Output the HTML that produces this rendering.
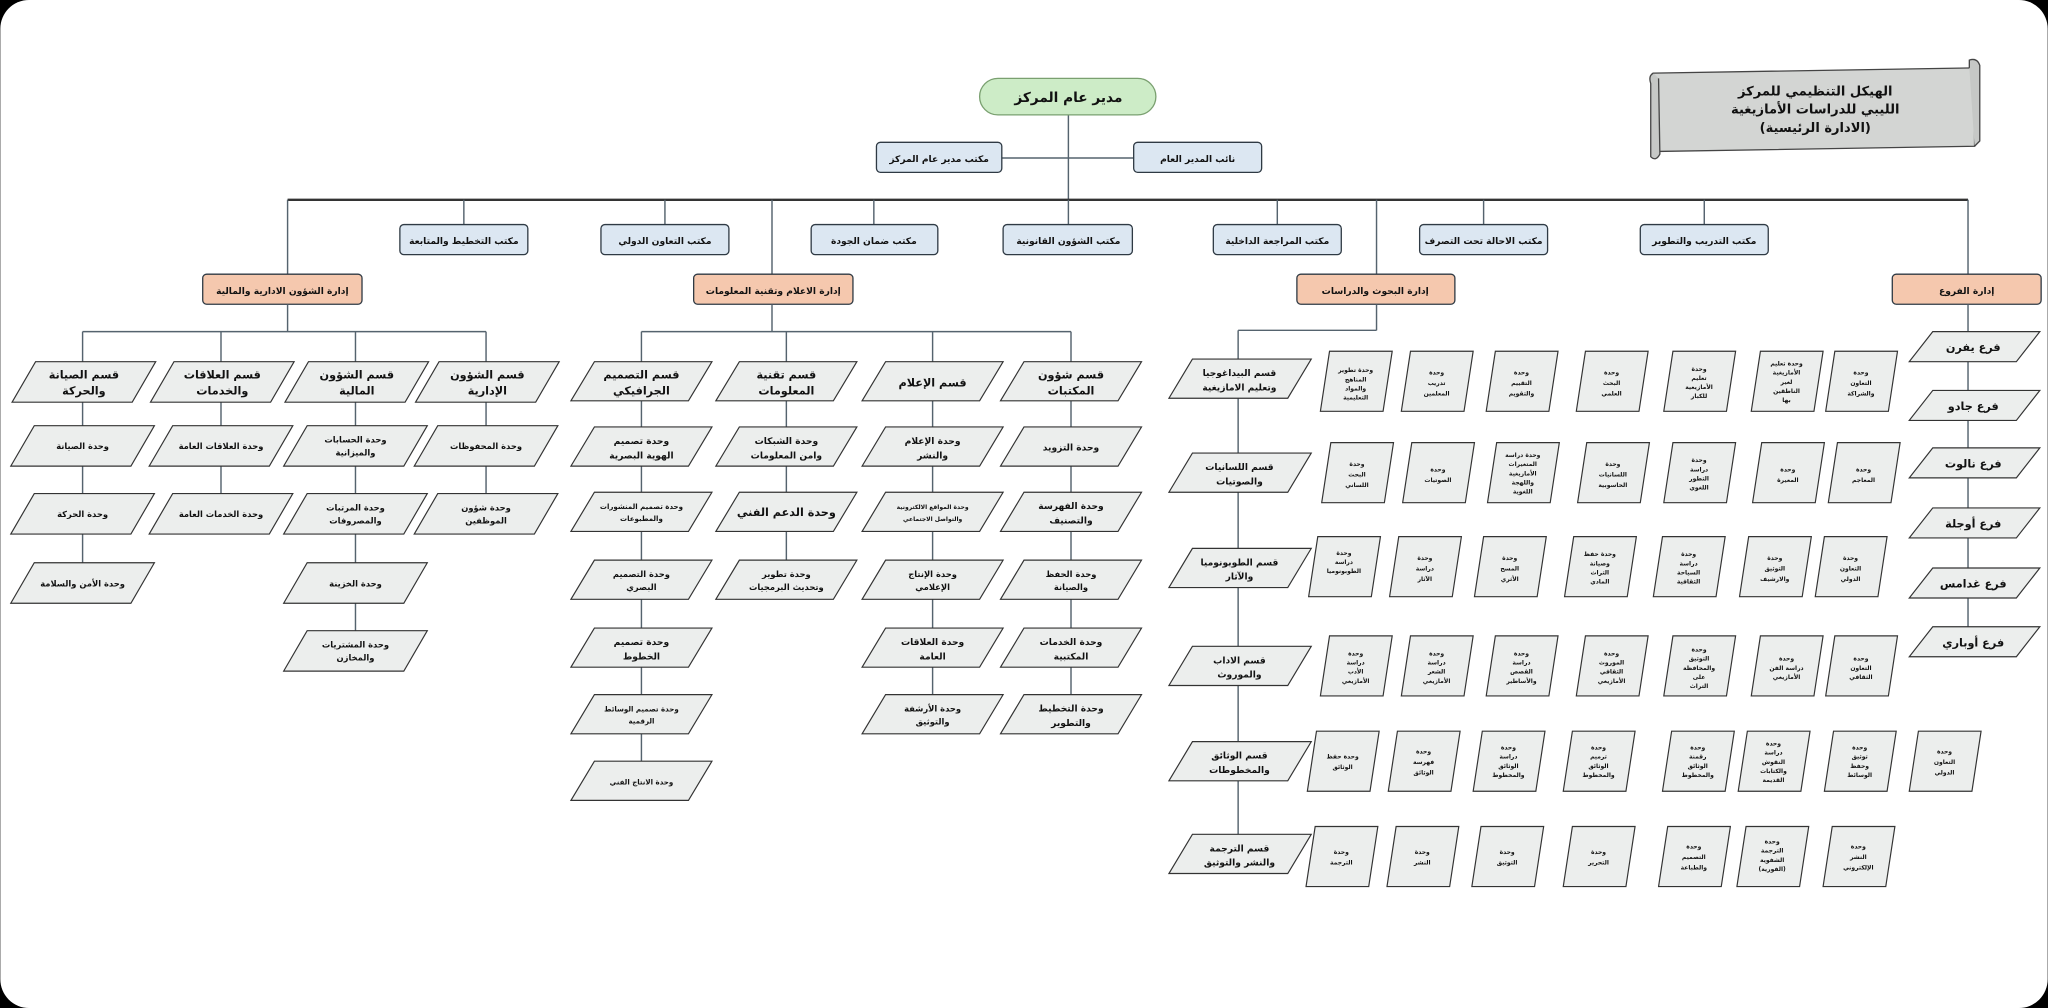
<!DOCTYPE html>
<html><head><meta charset="utf-8"><style>
html,body{margin:0;padding:0;background:#000;width:2048px;height:1008px;overflow:hidden}
svg{display:block}
text{font-family:"DejaVu Sans","Liberation Sans",sans-serif;font-weight:bold;fill:#111;text-anchor:middle;direction:rtl}
.ln{stroke:#55636e;stroke-width:1.1;fill:none}
.bx{fill:#dce7f2;stroke:#2f3a44;stroke-width:1}
.or{fill:#f5c8ae;stroke:#2f3a44;stroke-width:1}
.pg{fill:#eceeed;stroke:#333;stroke-width:0.9}
.t8{font-size:7px}.t9{font-size:8.6px}.t7{font-size:6.4px}.t6{font-size:5.4px}.t5{font-size:4.6px}
</style></head><body>
<svg width="2048" height="1008" viewBox="0 0 1568 772" xmlns="http://www.w3.org/2000/svg">
<rect x="0" y="0" width="1568" height="772" rx="22" fill="#fff"/>

<path d="M1266 56 L1512 52 L1512 112 L1270 116 Z" fill="#d3d5d3" stroke="#444" stroke-width="1"/>
<path d="M1508 52 L1508 46 Q1514 44 1516 50 L1516 108 L1512 112" fill="#c6c8c6" stroke="#444" stroke-width="1"/>
<path d="M1266 56 Q1262 58 1264 64 L1264 120 Q1268 124 1271 118 L1270 60" fill="#c6c8c6" stroke="#444" stroke-width="1"/>
<text x="1390" y="73" style="font-size:10px">الهيكل التنظيمي للمركز</text>
<text x="1390" y="87" style="font-size:10px">الليبي للدراسات الأمازيغية</text>
<text x="1390" y="101" style="font-size:10px">(الادارة الرئيسية)</text>

<path class="ln" d="M818 88 V153 M767 121 H868"/>
<path d="M220 153 H1507" stroke="#333" stroke-width="1.8"/>
<path class="ln" d="M355 153V172 M509 153V172 M669 153V172 M818 153V172 M978 153V172 M1136 153V172 M1305 153V172 M220 153V210 M591 153V210 M1054 153V210 M1507 153V210"/>

<rect x="750" y="60" width="135" height="28" rx="14" fill="#cdecc7" stroke="#7aa070" stroke-width="1"/>
<text x="818" y="78" style="font-size:10.5px">مدير عام المركز</text>

<rect class="bx" x="671" y="109" width="96" height="23" rx="3"/><text class="t8" x="719" y="124">مكتب مدير عام المركز</text>
<rect class="bx" x="868" y="109" width="98" height="23" rx="3"/><text class="t8" x="917" y="124">نائب المدير العام</text>

<rect class="bx" x="306" y="172" width="98" height="23" rx="3"/><text class="t8" x="355" y="187">مكتب التخطيط والمتابعة</text>
<rect class="bx" x="460" y="172" width="98" height="23" rx="3"/><text class="t8" x="509" y="187">مكتب التعاون الدولي</text>
<rect class="bx" x="621" y="172" width="97" height="23" rx="3"/><text class="t8" x="669" y="187">مكتب ضمان الجودة</text>
<rect class="bx" x="768" y="172" width="99" height="23" rx="3"/><text class="t8" x="818" y="187">مكتب الشؤون القانونية</text>
<rect class="bx" x="929" y="172" width="98" height="23" rx="3"/><text class="t8" x="978" y="187">مكتب المراجعة الداخلية</text>
<rect class="bx" x="1087" y="172" width="98" height="23" rx="3"/><text class="t8" x="1136" y="187">مكتب الاحالة تحت التصرف</text>
<rect class="bx" x="1256" y="172" width="98" height="23" rx="3"/><text class="t8" x="1305" y="187">مكتب التدريب والتطوير</text>

<rect class="or" x="155" y="210" width="122" height="23" rx="3"/><text class="t8" x="216" y="225">إدارة الشؤون الادارية والمالية</text>
<rect class="or" x="531" y="210" width="122" height="23" rx="3"/><text class="t8" x="592" y="225">إدارة الاعلام وتقنية المعلومات</text>
<rect class="or" x="993" y="210" width="121" height="23" rx="3"/><text class="t8" x="1053" y="225">إدارة البحوث والدراسات</text>
<rect class="or" x="1449" y="210" width="114" height="23" rx="3"/><text class="t8" x="1506" y="225">إدارة الفروع</text>

<path class="ln" d="M220 233V254 M63 254H372 M63 254V277 M169 254V277 M272 254V277 M372 254V277 M63 308V450 M169 308V395 M272 308V500 M372 308V395"/>
<g>
<polygon class="pg" points="27,277 119,277 101,308 9,308"/><text class="t9" x="64" y="290">قسم الصيانة</text><text class="t9" x="64" y="302">والحركة</text>
<polygon class="pg" points="133,277 225,277 207,308 115,308"/><text class="t9" x="170" y="290">قسم العلاقات</text><text class="t9" x="170" y="302">والخدمات</text>
<polygon class="pg" points="236,277 328,277 310,308 218,308"/><text class="t9" x="273" y="290">قسم الشؤون</text><text class="t9" x="273" y="302">المالية</text>
<polygon class="pg" points="336,277 428,277 410,308 318,308"/><text class="t9" x="373" y="290">قسم الشؤون</text><text class="t9" x="373" y="302">الإدارية</text>

<polygon class="pg" points="26,326 118,326 100,357 8,357"/><text class="t7" x="63" y="344">وحدة الصيانة</text>
<polygon class="pg" points="26,378 118,378 100,409 8,409"/><text class="t7" x="63" y="396">وحدة الحركة</text>
<polygon class="pg" points="26,431 118,431 100,462 8,462"/><text class="t7" x="63" y="449">وحدة الأمن والسلامة</text>
<polygon class="pg" points="132,326 224,326 206,357 114,357"/><text class="t7" x="169" y="344">وحدة العلاقات العامة</text>
<polygon class="pg" points="132,378 224,378 206,409 114,409"/><text class="t7" x="169" y="396">وحدة الخدمات العامة</text>
<polygon class="pg" points="235,326 327,326 309,357 217,357"/><text class="t7" x="272" y="339">وحدة الحسابات</text><text class="t7" x="272" y="349">والميزانية</text>
<polygon class="pg" points="235,378 327,378 309,409 217,409"/><text class="t7" x="272" y="391">وحدة المرتبات</text><text class="t7" x="272" y="401">والمصروفات</text>
<polygon class="pg" points="235,431 327,431 309,462 217,462"/><text class="t7" x="272" y="449">وحدة الخزينة</text>
<polygon class="pg" points="235,483 327,483 309,514 217,514"/><text class="t7" x="272" y="496">وحدة المشتريات</text><text class="t7" x="272" y="506">والمخازن</text>
<polygon class="pg" points="335,326 427,326 409,357 317,357"/><text class="t7" x="372" y="344">وحدة المحفوظات</text>
<polygon class="pg" points="335,378 427,378 409,409 317,409"/><text class="t7" x="372" y="391">وحدة شؤون</text><text class="t7" x="372" y="401">الموظفين</text>
</g>

<path class="ln" d="M591 233V254 M491 254H820 M491 254V277 M602 254V277 M714 254V277 M820 254V277 M491 306V590 M602 306V440 M714 306V540 M820 306V540"/>
<g>
<polygon class="pg" points="455,277 545,277 527,307 437,307"/><text class="t9" x="491" y="290">قسم التصميم</text><text class="t9" x="491" y="302">الجرافيكي</text>
<polygon class="pg" points="566,277 656,277 638,307 548,307"/><text class="t9" x="602" y="290">قسم تقنية</text><text class="t9" x="602" y="302">المعلومات</text>
<polygon class="pg" points="678,277 768,277 750,307 660,307"/><text class="t9" x="714" y="296">قسم الإعلام</text>
<polygon class="pg" points="784,277 874,277 856,307 766,307"/><text class="t9" x="820" y="290">قسم شؤون</text><text class="t9" x="820" y="302">المكتبات</text>

<polygon class="pg" points="455,327 545,327 527,357 437,357"/><text class="t8" x="491" y="340">وحدة تصميم</text><text class="t8" x="491" y="351">الهوية البصرية</text>
<polygon class="pg" points="455,377 545,377 527,407 437,407"/><text class="t6" x="491" y="390">وحدة تصميم المنشورات</text><text class="t6" x="491" y="399">والمطبوعات</text>
<polygon class="pg" points="455,429 545,429 527,459 437,459"/><text class="t7" x="491" y="442">وحدة التصميم</text><text class="t7" x="491" y="452">البصري</text>
<polygon class="pg" points="455,481 545,481 527,511 437,511"/><text class="t8" x="491" y="494">وحدة تصميم</text><text class="t8" x="491" y="505">الخطوط</text>
<polygon class="pg" points="455,532 545,532 527,562 437,562"/><text class="t6" x="491" y="545">وحدة تصميم الوسائط</text><text class="t6" x="491" y="554">الرقمية</text>
<polygon class="pg" points="455,583 545,583 527,613 437,613"/><text class="t6" x="491" y="601">وحدة الانتاج الفني</text>

<polygon class="pg" points="566,327 656,327 638,357 548,357"/><text class="t8" x="602" y="340">وحدة الشبكات</text><text class="t8" x="602" y="351">وامن المعلومات</text>
<polygon class="pg" points="566,377 656,377 638,407 548,407"/><text class="t9" x="602" y="395">وحدة الدعم الفني</text>
<polygon class="pg" points="566,429 656,429 638,459 548,459"/><text class="t7" x="602" y="442">وحدة تطوير</text><text class="t7" x="602" y="452">وتحديث البرمجيات</text>

<polygon class="pg" points="678,327 768,327 750,357 660,357"/><text class="t8" x="714" y="340">وحدة الإعلام</text><text class="t8" x="714" y="351">والنشر</text>
<polygon class="pg" points="678,377 768,377 750,407 660,407"/><text class="t5" x="714" y="390">وحدة المواقع الالكترونية</text><text class="t5" x="714" y="399">والتواصل الاجتماعي</text>
<polygon class="pg" points="678,429 768,429 750,459 660,459"/><text class="t7" x="714" y="442">وحدة الإنتاج</text><text class="t7" x="714" y="452">الإعلامي</text>
<polygon class="pg" points="678,481 768,481 750,511 660,511"/><text class="t8" x="714" y="494">وحدة العلاقات</text><text class="t8" x="714" y="505">العامة</text>
<polygon class="pg" points="678,532 768,532 750,562 660,562"/><text class="t7" x="714" y="545">وحدة الأرشفة</text><text class="t7" x="714" y="555">والتوثيق</text>

<polygon class="pg" points="784,327 874,327 856,357 766,357"/><text class="t8" x="820" y="345">وحدة التزويد</text>
<polygon class="pg" points="784,377 874,377 856,407 766,407"/><text class="t8" x="820" y="390">وحدة الفهرسة</text><text class="t8" x="820" y="401">والتصنيف</text>
<polygon class="pg" points="784,429 874,429 856,459 766,459"/><text class="t7" x="820" y="442">وحدة الحفظ</text><text class="t7" x="820" y="452">والصيانة</text>
<polygon class="pg" points="784,481 874,481 856,511 766,511"/><text class="t8" x="820" y="494">وحدة الخدمات</text><text class="t8" x="820" y="505">المكتبية</text>
<polygon class="pg" points="784,532 874,532 856,562 766,562"/><text class="t8" x="820" y="545">وحدة التخطيط</text><text class="t8" x="820" y="556">والتطوير</text>
</g>

<path class="ln" d="M1054 233V253 M948 253H1054 M948 253V639"/>
<g>
<polygon class="pg" points="913,275 1004,275 986,305 895,305"/><text class="t8" x="949" y="288">قسم البيداغوجيا</text><text class="t8" x="949" y="299">وتعليم الامازيغية</text>
<polygon class="pg" points="913,347 1004,347 986,377 895,377"/><text class="t8" x="949" y="360">قسم اللسانيات</text><text class="t8" x="949" y="371">والصوتيات</text>
<polygon class="pg" points="913,420 1004,420 986,450 895,450"/><text class="t8" x="949" y="433">قسم الطوبونوميا</text><text class="t8" x="949" y="444">والآثار</text>
<polygon class="pg" points="913,495 1004,495 986,525 895,525"/><text class="t8" x="949" y="508">قسم الاداب</text><text class="t8" x="949" y="519">والموروث</text>
<polygon class="pg" points="913,568 1004,568 986,598 895,598"/><text class="t8" x="949" y="581">قسم الوثائق</text><text class="t8" x="949" y="592">والمخطوطات</text>
<polygon class="pg" points="913,639 1004,639 986,669 895,669"/><text class="t8" x="949" y="652">قسم الترجمة</text><text class="t8" x="949" y="663">والنشر والتوثيق</text>
</g>

<g>
<polygon class="pg" points="1018,269 1066,269 1059,315 1011,315"/><text class="t5" x="1038" y="285">وحدة تطوير</text><text class="t5" x="1038" y="292">المناهج</text><text class="t5" x="1038" y="299">والمواد</text><text class="t5" x="1038" y="306">التعليمية</text>
<polygon class="pg" points="1080,269 1128,269 1121,315 1073,315"/><text class="t5" x="1100" y="287">وحدة</text><text class="t5" x="1100" y="295">تدريب</text><text class="t5" x="1100" y="303">المعلمين</text>
<polygon class="pg" points="1145,269 1193,269 1186,315 1138,315"/><text class="t5" x="1165" y="287">وحدة</text><text class="t5" x="1165" y="295">التقييم</text><text class="t5" x="1165" y="303">والتقويم</text>
<polygon class="pg" points="1214,269 1262,269 1255,315 1207,315"/><text class="t5" x="1234" y="287">وحدة</text><text class="t5" x="1234" y="295">البحث</text><text class="t5" x="1234" y="303">العلمي</text>
<polygon class="pg" points="1281,269 1329,269 1322,315 1274,315"/><text class="t5" x="1301" y="284">وحدة</text><text class="t5" x="1301" y="291">تعليم</text><text class="t5" x="1301" y="298">الأمازيغية</text><text class="t5" x="1301" y="305">للكبار</text>
<polygon class="pg" points="1348,269 1396,269 1389,315 1341,315"/><text class="t5" x="1368" y="280">وحدة تعليم</text><text class="t5" x="1368" y="287">الأمازيغية</text><text class="t5" x="1368" y="294">لغير</text><text class="t5" x="1368" y="301">الناطقين</text><text class="t5" x="1368" y="308">بها</text>
<polygon class="pg" points="1405,269 1453,269 1446,315 1398,315"/><text class="t5" x="1425" y="287">وحدة</text><text class="t5" x="1425" y="295">التعاون</text><text class="t5" x="1425" y="303">والشراكة</text>

<polygon class="pg" points="1019,339 1067,339 1060,385 1012,385"/><text class="t5" x="1039" y="357">وحدة</text><text class="t5" x="1039" y="365">البحث</text><text class="t5" x="1039" y="373">اللساني</text>
<polygon class="pg" points="1081,339 1129,339 1122,385 1074,385"/><text class="t5" x="1101" y="361">وحدة</text><text class="t5" x="1101" y="369">الصوتيات</text>
<polygon class="pg" points="1146,339 1194,339 1187,385 1139,385"/><text class="t5" x="1166" y="350">وحدة دراسة</text><text class="t5" x="1166" y="357">المتغيرات</text><text class="t5" x="1166" y="364">الأمازيغية</text><text class="t5" x="1166" y="371">واللهجة</text><text class="t5" x="1166" y="378">اللغوية</text>
<polygon class="pg" points="1215,339 1263,339 1256,385 1208,385"/><text class="t5" x="1235" y="357">وحدة</text><text class="t5" x="1235" y="365">اللسانيات</text><text class="t5" x="1235" y="373">الحاسوبية</text>
<polygon class="pg" points="1281,339 1329,339 1322,385 1274,385"/><text class="t5" x="1301" y="354">وحدة</text><text class="t5" x="1301" y="361">دراسة</text><text class="t5" x="1301" y="368">التطور</text><text class="t5" x="1301" y="375">اللغوي</text>
<polygon class="pg" points="1349,339 1397,339 1390,385 1342,385"/><text class="t5" x="1369" y="361">وحدة</text><text class="t5" x="1369" y="369">المعيرة</text>
<polygon class="pg" points="1407,339 1455,339 1448,385 1400,385"/><text class="t5" x="1427" y="361">وحدة</text><text class="t5" x="1427" y="369">المعاجم</text>

<polygon class="pg" points="1009,411 1057,411 1050,457 1002,457"/><text class="t5" x="1029" y="425">وحدة</text><text class="t5" x="1029" y="432">دراسة</text><text class="t5" x="1029" y="439">الطوبونوميا</text>
<polygon class="pg" points="1071,411 1119,411 1112,457 1064,457"/><text class="t5" x="1091" y="429">وحدة</text><text class="t5" x="1091" y="437">دراسة</text><text class="t5" x="1091" y="445">الآثار</text>
<polygon class="pg" points="1136,411 1184,411 1177,457 1129,457"/><text class="t5" x="1156" y="429">وحدة</text><text class="t5" x="1156" y="437">المسح</text><text class="t5" x="1156" y="445">الأثري</text>
<polygon class="pg" points="1205,411 1253,411 1246,457 1198,457"/><text class="t5" x="1225" y="426">وحدة حفظ</text><text class="t5" x="1225" y="433">وصيانة</text><text class="t5" x="1225" y="440">التراث</text><text class="t5" x="1225" y="447">المادي</text>
<polygon class="pg" points="1273,411 1321,411 1314,457 1266,457"/><text class="t5" x="1293" y="426">وحدة</text><text class="t5" x="1293" y="433">دراسة</text><text class="t5" x="1293" y="440">السياحة</text><text class="t5" x="1293" y="447">الثقافية</text>
<polygon class="pg" points="1339,411 1387,411 1380,457 1332,457"/><text class="t5" x="1359" y="429">وحدة</text><text class="t5" x="1359" y="437">التوثيق</text><text class="t5" x="1359" y="445">والارشيف</text>
<polygon class="pg" points="1397,411 1445,411 1438,457 1390,457"/><text class="t5" x="1417" y="429">وحدة</text><text class="t5" x="1417" y="437">التعاون</text><text class="t5" x="1417" y="445">الدولي</text>

<polygon class="pg" points="1018,487 1066,487 1059,533 1011,533"/><text class="t5" x="1038" y="502">وحدة</text><text class="t5" x="1038" y="509">دراسة</text><text class="t5" x="1038" y="516">الأدب</text><text class="t5" x="1038" y="523">الأمازيغي</text>
<polygon class="pg" points="1080,487 1128,487 1121,533 1073,533"/><text class="t5" x="1100" y="502">وحدة</text><text class="t5" x="1100" y="509">دراسة</text><text class="t5" x="1100" y="516">الشعر</text><text class="t5" x="1100" y="523">الأمازيغي</text>
<polygon class="pg" points="1145,487 1193,487 1186,533 1138,533"/><text class="t5" x="1165" y="502">وحدة</text><text class="t5" x="1165" y="509">دراسة</text><text class="t5" x="1165" y="516">القصص</text><text class="t5" x="1165" y="523">والأساطير</text>
<polygon class="pg" points="1214,487 1262,487 1255,533 1207,533"/><text class="t5" x="1234" y="502">وحدة</text><text class="t5" x="1234" y="509">الموروث</text><text class="t5" x="1234" y="516">الثقافي</text><text class="t5" x="1234" y="523">الأمازيغي</text>
<polygon class="pg" points="1281,487 1329,487 1322,533 1274,533"/><text class="t5" x="1301" y="499">وحدة</text><text class="t5" x="1301" y="506">التوثيق</text><text class="t5" x="1301" y="513">والمحافظة</text><text class="t5" x="1301" y="520">على</text><text class="t5" x="1301" y="527">التراث</text>
<polygon class="pg" points="1348,487 1396,487 1389,533 1341,533"/><text class="t5" x="1368" y="506">وحدة</text><text class="t5" x="1368" y="513">دراسة الفن</text><text class="t5" x="1368" y="520">الأمازيغي</text>
<polygon class="pg" points="1405,487 1453,487 1446,533 1398,533"/><text class="t5" x="1425" y="506">وحدة</text><text class="t5" x="1425" y="513">التعاون</text><text class="t5" x="1425" y="520">الثقافي</text>

<polygon class="pg" points="1008,560 1056,560 1049,606 1001,606"/><text class="t5" x="1028" y="581">وحدة حفظ</text><text class="t5" x="1028" y="589">الوثائق</text>
<polygon class="pg" points="1070,560 1118,560 1111,606 1063,606"/><text class="t5" x="1090" y="577">وحدة</text><text class="t5" x="1090" y="585">فهرسة</text><text class="t5" x="1090" y="593">الوثائق</text>
<polygon class="pg" points="1135,560 1183,560 1176,606 1128,606"/><text class="t5" x="1155" y="574">وحدة</text><text class="t5" x="1155" y="581">دراسة</text><text class="t5" x="1155" y="588">الوثائق</text><text class="t5" x="1155" y="595">والمخطوط</text>
<polygon class="pg" points="1204,560 1252,560 1245,606 1197,606"/><text class="t5" x="1224" y="574">وحدة</text><text class="t5" x="1224" y="581">ترميم</text><text class="t5" x="1224" y="588">الوثائق</text><text class="t5" x="1224" y="595">والمخطوط</text>
<polygon class="pg" points="1280,560 1328,560 1321,606 1273,606"/><text class="t5" x="1300" y="574">وحدة</text><text class="t5" x="1300" y="581">رقمنة</text><text class="t5" x="1300" y="588">الوثائق</text><text class="t5" x="1300" y="595">والمخطوط</text>
<polygon class="pg" points="1338,560 1386,560 1379,606 1331,606"/><text class="t5" x="1358" y="571">وحدة</text><text class="t5" x="1358" y="578">دراسة</text><text class="t5" x="1358" y="585">النقوش</text><text class="t5" x="1358" y="592">والكتابات</text><text class="t5" x="1358" y="599">القديمة</text>
<polygon class="pg" points="1404,560 1452,560 1445,606 1397,606"/><text class="t5" x="1424" y="574">وحدة</text><text class="t5" x="1424" y="581">توثيق</text><text class="t5" x="1424" y="588">وحفظ</text><text class="t5" x="1424" y="595">الوسائط</text>
<polygon class="pg" points="1469,560 1517,560 1510,606 1462,606"/><text class="t5" x="1489" y="577">وحدة</text><text class="t5" x="1489" y="585">التعاون</text><text class="t5" x="1489" y="593">الدولي</text>

<polygon class="pg" points="1007,633 1055,633 1048,679 1000,679"/><text class="t5" x="1027" y="654">وحدة</text><text class="t5" x="1027" y="662">الترجمة</text>
<polygon class="pg" points="1069,633 1117,633 1110,679 1062,679"/><text class="t5" x="1089" y="654">وحدة</text><text class="t5" x="1089" y="662">النشر</text>
<polygon class="pg" points="1134,633 1182,633 1175,679 1127,679"/><text class="t5" x="1154" y="654">وحدة</text><text class="t5" x="1154" y="662">التوثيق</text>
<polygon class="pg" points="1204,633 1252,633 1245,679 1197,679"/><text class="t5" x="1224" y="654">وحدة</text><text class="t5" x="1224" y="662">التحرير</text>
<polygon class="pg" points="1277,633 1325,633 1318,679 1270,679"/><text class="t5" x="1297" y="650">وحدة</text><text class="t5" x="1297" y="658">التصميم</text><text class="t5" x="1297" y="666">والطباعة</text>
<polygon class="pg" points="1337,633 1385,633 1378,679 1330,679"/><text class="t5" x="1357" y="646">وحدة</text><text class="t5" x="1357" y="653">الترجمة</text><text class="t5" x="1357" y="660">الشفوية</text><text class="t5" x="1357" y="667">(الفورية)</text>
<polygon class="pg" points="1403,633 1451,633 1444,679 1396,679"/><text class="t5" x="1423" y="650">وحدة</text><text class="t5" x="1423" y="658">النشر</text><text class="t5" x="1423" y="666">الإلكتروني</text>
</g>

<path class="ln" d="M1507 233V480"/>
<g>
<polygon class="pg" points="1480,254 1562,254 1544,277 1462,277"/><text class="t9" x="1511" y="269">فرع يفرن</text>
<polygon class="pg" points="1480,299 1562,299 1544,322 1462,322"/><text class="t9" x="1511" y="314">فرع جادو</text>
<polygon class="pg" points="1480,343 1562,343 1544,366 1462,366"/><text class="t9" x="1511" y="358">فرع نالوت</text>
<polygon class="pg" points="1480,389 1562,389 1544,412 1462,412"/><text class="t9" x="1511" y="404">فرع أوجلة</text>
<polygon class="pg" points="1480,435 1562,435 1544,458 1462,458"/><text class="t9" x="1511" y="450">فرع غدامس</text>
<polygon class="pg" points="1480,480 1562,480 1544,503 1462,503"/><text class="t9" x="1511" y="495">فرع أوباري</text>
</g>
</svg>
</body></html>
